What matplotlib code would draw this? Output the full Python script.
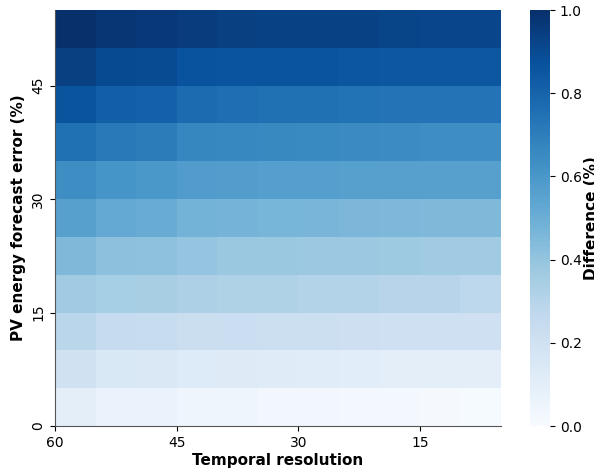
import matplotlib
matplotlib.use("Agg")
import matplotlib.pyplot as plt
import numpy as np

# temporal resolution bin edges (x, plotted right-to-left) and forecast-error edges (y)
res_edges = [60, 55, 50, 45, 40, 35, 30, 25, 20, 15, 10, 5]
err_edges = [0, 5, 10, 15, 20, 25, 30, 35, 40, 45, 50, 55]

# difference values, rows from error 0-5 (bottom) up to 50-55 (top), columns from res 60 down to 5
diff = np.array([
    [0.10, 0.07, 0.065, 0.05, 0.045, 0.035, 0.03, 0.025, 0.02, 0.015, 0.01],
    [0.20, 0.15, 0.145, 0.13, 0.125, 0.12, 0.115, 0.11, 0.105, 0.10, 0.10],
    [0.29, 0.25, 0.245, 0.23, 0.225, 0.22, 0.22, 0.215, 0.21, 0.21, 0.21],
    [0.37, 0.35, 0.345, 0.33, 0.32, 0.32, 0.31, 0.31, 0.30, 0.30, 0.28],
    [0.45, 0.42, 0.415, 0.40, 0.385, 0.385, 0.38, 0.38, 0.375, 0.37, 0.37],
    [0.56, 0.52, 0.51, 0.48, 0.475, 0.47, 0.465, 0.46, 0.455, 0.45, 0.45],
    [0.64, 0.61, 0.60, 0.58, 0.575, 0.57, 0.57, 0.565, 0.56, 0.56, 0.56],
    [0.75, 0.72, 0.71, 0.67, 0.665, 0.66, 0.655, 0.65, 0.645, 0.64, 0.64],
    [0.86, 0.82, 0.81, 0.77, 0.76, 0.75, 0.75, 0.745, 0.74, 0.74, 0.74],
    [0.94, 0.90, 0.895, 0.87, 0.865, 0.86, 0.86, 0.855, 0.85, 0.85, 0.85],
    [1.00, 0.98, 0.965, 0.95, 0.94, 0.935, 0.93, 0.93, 0.925, 0.92, 0.92],
])

fig = plt.figure(figsize=(5.94, 4.71), dpi=100)
ax = fig.add_axes([55 / 594, 45 / 471, 446 / 594, 416 / 471])
cax = fig.add_axes([530 / 594, 45 / 471, 20 / 594, 416 / 471])

mesh = ax.pcolormesh(res_edges, err_edges, diff, cmap="Blues", vmin=0, vmax=1,
                     shading="flat")
ax.set_xlim(60, 5)
ax.set_ylim(0, 55)
ax.set_xticks([60, 45, 30, 15])
ax.set_yticks([0, 15, 30, 45])
ax.set_yticklabels(["0", "15", "30", "45"], rotation=90, va="center")
for side in ["top", "right"]:
    ax.spines[side].set_visible(False)
for side in ["left", "bottom"]:
    ax.spines[side].set_color("#555555")
ax.set_xlabel("Temporal resolution", fontweight="bold", fontsize=11, labelpad=2)
ax.set_ylabel("PV energy forecast error (%)", fontweight="bold", fontsize=11, labelpad=4)

cb = fig.colorbar(mesh, cax=cax)
cb.outline.set_visible(False)
cb.set_ticks([0.0, 0.2, 0.4, 0.6, 0.8, 1.0])
cb.set_label("Difference (%)", fontweight="bold", fontsize=11, labelpad=2)

fig.savefig("out.png", dpi=100)
